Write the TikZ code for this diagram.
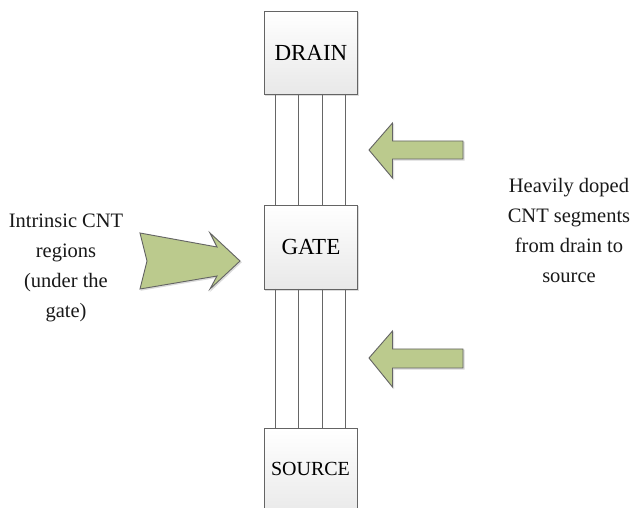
\documentclass[tikz,border=0pt]{standalone}
\usepackage{fontspec}
\setmainfont{Liberation Serif}
\definecolor{arrowgreen}{RGB}{187,202,141}
\definecolor{edgegray}{RGB}{100,100,100}
\tikzset{
  boxnode/.style={draw=edgegray,line width=0.9pt,top color=white,bottom color=black!9,minimum width=93pt,minimum height=83pt,inner sep=0pt,anchor=north west,text=black},
  softshadow/.style={preaction={draw=black!14,fill=black!14,line width=0.9pt,transform canvas={xshift=1.2pt,yshift=-1.2pt}}},
  arrowshape/.style={draw=edgegray,line width=0.9pt,fill=arrowgreen,line join=miter,softshadow},
  wire/.style={draw=black!60,line width=1pt},
  labeltext/.style={align=center,font=\fontsize{20.5pt}{30pt}\selectfont,inner sep=0pt,text=black!90}
}
\begin{document}
\begin{tikzpicture}[x=1pt,y=-1pt]
\clip (0,0) rectangle (633,508);
\fill[white] (0,0) rectangle (633,508);
% boxes
\node[boxnode,softshadow,font=\fontsize{23pt}{26pt}\selectfont] (drain) at (264,11) {DRAIN};
\node[boxnode,softshadow,minimum height=84pt,font=\fontsize{23pt}{26pt}\selectfont] (gate) at (264,205) {GATE};
\node[boxnode,minimum height=90pt,font=\fontsize{20pt}{24pt}\selectfont,text depth=0pt] (source) at (264,428) {};
\node[font=\fontsize{20pt}{24pt}\selectfont,inner sep=0pt,text=black] (sourcetext) at (310.5,468.5) {SOURCE};
% wires
\foreach \n/\xx in {a/275.5,b/298.5,c/322,d/345.5}{
  \path (\xx,94) coordinate (drain\n) (\xx,205) coordinate (gatetop\n)
        (\xx,289) coordinate (gatebot\n) (\xx,428) coordinate (source\n);
  \draw[wire] (drain\n) -- (gatetop\n);
  \draw[wire] (gatebot\n) -- (source\n);
}
% arrows
\draw[arrowshape] (369,150) -- (392.5,123) -- (392.5,141) -- (463,141) -- (463,159) -- (392.5,159) -- (392.5,178) -- cycle;
\draw[arrowshape] (369,358) -- (392.5,331) -- (392.5,349) -- (463,349) -- (463,368) -- (392.5,368) -- (392.5,387) -- cycle;
\draw[arrowshape] (140,233) -- (217,247) -- (210,233) -- (240,261) -- (210,289) -- (217,276) -- (140,289) -- (147,261) -- cycle;
% labels
\node[labeltext] (intrinsic) at (66,268) {Intrinsic CNT\\regions\\(under the\\gate)};
\node[labeltext] (doped) at (569,230) {Heavily doped\\CNT segments\\from drain to\\source};
\end{tikzpicture}
\end{document}
